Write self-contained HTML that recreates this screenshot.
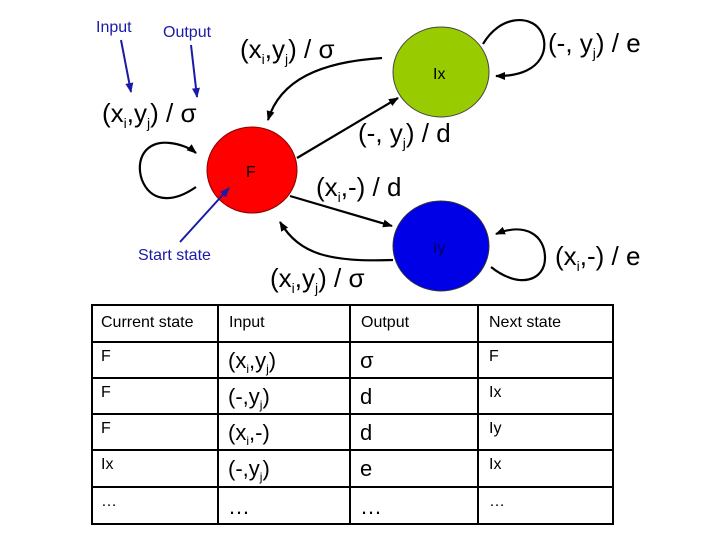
<!DOCTYPE html>
<html><head><meta charset="utf-8"><style>
body{margin:0;background:#fff;width:720px;height:540px;overflow:hidden}
svg{display:block;font-family:"Liberation Sans",sans-serif}
</style></head><body>
<svg width="720" height="540" viewBox="0 0 720 540">
<defs>
<marker id="a" markerWidth="10" markerHeight="8" refX="9" refY="4" orient="auto" markerUnits="userSpaceOnUse"><path d="M0,0 L10,4 L0,8 z" fill="#000"/></marker>
<marker id="b" markerWidth="10" markerHeight="8" refX="9" refY="4" orient="auto" markerUnits="userSpaceOnUse"><path d="M0,0 L10,4 L0,8 z" fill="#1a1aa8"/></marker>
</defs>
<g fill="none" stroke="#000" stroke-width="2.2">
<path d="M196,187 C170,205 150,200 142,180 C135,160 145,140 170,143 C180,144 190,148 196,153" marker-end="url(#a)"/>
<path d="M382,58 C320,62 280,80 268,120" marker-end="url(#a)"/>
<path d="M297,158 L398,98" marker-end="url(#a)"/>
<path d="M290,196 L392,226" marker-end="url(#a)"/>
<path d="M393,260 C330,262 300,255 280,222" marker-end="url(#a)"/>
<path d="M483,44 C500,15 530,15 540,30 C550,45 545,75 500,76 L496,76" marker-end="url(#a)"/>
<path d="M491,267 C520,290 545,280 545,258 C545,235 525,222 496,234" marker-end="url(#a)"/>
</g>
<g stroke="#1a1aa8" stroke-width="2" fill="none">
<line x1="121" y1="40" x2="131" y2="92" marker-end="url(#b)"/>
<line x1="191" y1="45" x2="197" y2="97" marker-end="url(#b)"/>
</g>
<ellipse cx="252" cy="170" rx="45" ry="43" fill="#f00" stroke="#800" stroke-width="1"/>
<ellipse cx="441" cy="72" rx="48" ry="45" fill="#99cc00" stroke="#444" stroke-width="1"/>
<ellipse cx="441" cy="246" rx="48" ry="45" fill="#0000e6" stroke="#333" stroke-width="1"/>
<line x1="180" y1="242" x2="229" y2="188" stroke="#1a1aa8" stroke-width="2" marker-end="url(#b)"/>
<g font-size="16" fill="#000">
<text x="246" y="177">F</text><text x="433" y="79">Ix</text><text x="433" y="253" fill="#000060">Iy</text>
</g>
<g font-size="16" fill="#1a1aa8">
<text x="96" y="32">Input</text><text x="163" y="37">Output</text><text x="138" y="260">Start state</text>
</g>
<g font-size="26" fill="#000">
<text x="240" y="58">(x<tspan font-size="14" dy="6">i</tspan><tspan dy="-6">,y</tspan><tspan font-size="14" dy="6">j</tspan><tspan dy="-6">) / σ</tspan></text>
<text x="102" y="122">(x<tspan font-size="14" dy="6">i</tspan><tspan dy="-6">,y</tspan><tspan font-size="14" dy="6">j</tspan><tspan dy="-6">) / σ</tspan></text>
<text x="358" y="142">(-, y<tspan font-size="14" dy="6">j</tspan><tspan dy="-6">) / d</tspan></text>
<text x="316" y="196">(x<tspan font-size="14" dy="6">i</tspan><tspan dy="-6">,-) / d</tspan></text>
<text x="270" y="287">(x<tspan font-size="14" dy="6">i</tspan><tspan dy="-6">,y</tspan><tspan font-size="14" dy="6">j</tspan><tspan dy="-6">) / σ</tspan></text>
<text x="548" y="52">(-, y<tspan font-size="14" dy="6">j</tspan><tspan dy="-6">) / e</tspan></text>
<text x="555" y="265">(x<tspan font-size="14" dy="6">i</tspan><tspan dy="-6">,-) / e</tspan></text>
</g>
<g stroke="#000" stroke-width="2" fill="none">
<rect x="92" y="305" width="521" height="219"/>
<line x1="92" y1="342" x2="613" y2="342"/><line x1="92" y1="378" x2="613" y2="378"/>
<line x1="92" y1="414" x2="613" y2="414"/><line x1="92" y1="450" x2="613" y2="450"/>
<line x1="92" y1="487" x2="613" y2="487"/>
<line x1="218" y1="305" x2="218" y2="524"/><line x1="350" y1="305" x2="350" y2="524"/><line x1="478" y1="305" x2="478" y2="524"/>
</g>
<g font-size="16" fill="#000">
<text x="101" y="327">Current state</text><text x="229" y="327">Input</text><text x="361" y="327">Output</text><text x="489" y="327">Next state</text>
<text x="101" y="361">F</text><text x="489" y="361">F</text>
<text x="101" y="397">F</text><text x="489" y="397">Ix</text>
<text x="101" y="433">F</text><text x="489" y="433">Iy</text>
<text x="101" y="469">Ix</text><text x="489" y="469">Ix</text>
<text x="101" y="506">…</text><text x="489" y="506">…</text>
</g>
<g font-size="22" fill="#000">
<text x="228" y="368">(x<tspan font-size="12" dy="5">i</tspan><tspan dy="-5">,y</tspan><tspan font-size="12" dy="5">j</tspan><tspan dy="-5">)</tspan></text>
<text x="228" y="404">(-,y<tspan font-size="12" dy="5">j</tspan><tspan dy="-5">)</tspan></text>
<text x="228" y="440">(x<tspan font-size="12" dy="5">i</tspan><tspan dy="-5">,-)</tspan></text>
<text x="228" y="476">(-,y<tspan font-size="12" dy="5">j</tspan><tspan dy="-5">)</tspan></text>
<text x="228" y="514">…</text>
<text x="360" y="368">σ</text><text x="360" y="404">d</text><text x="360" y="440">d</text><text x="360" y="476">e</text><text x="360" y="514">…</text>
</g>
</svg>
</body></html>
